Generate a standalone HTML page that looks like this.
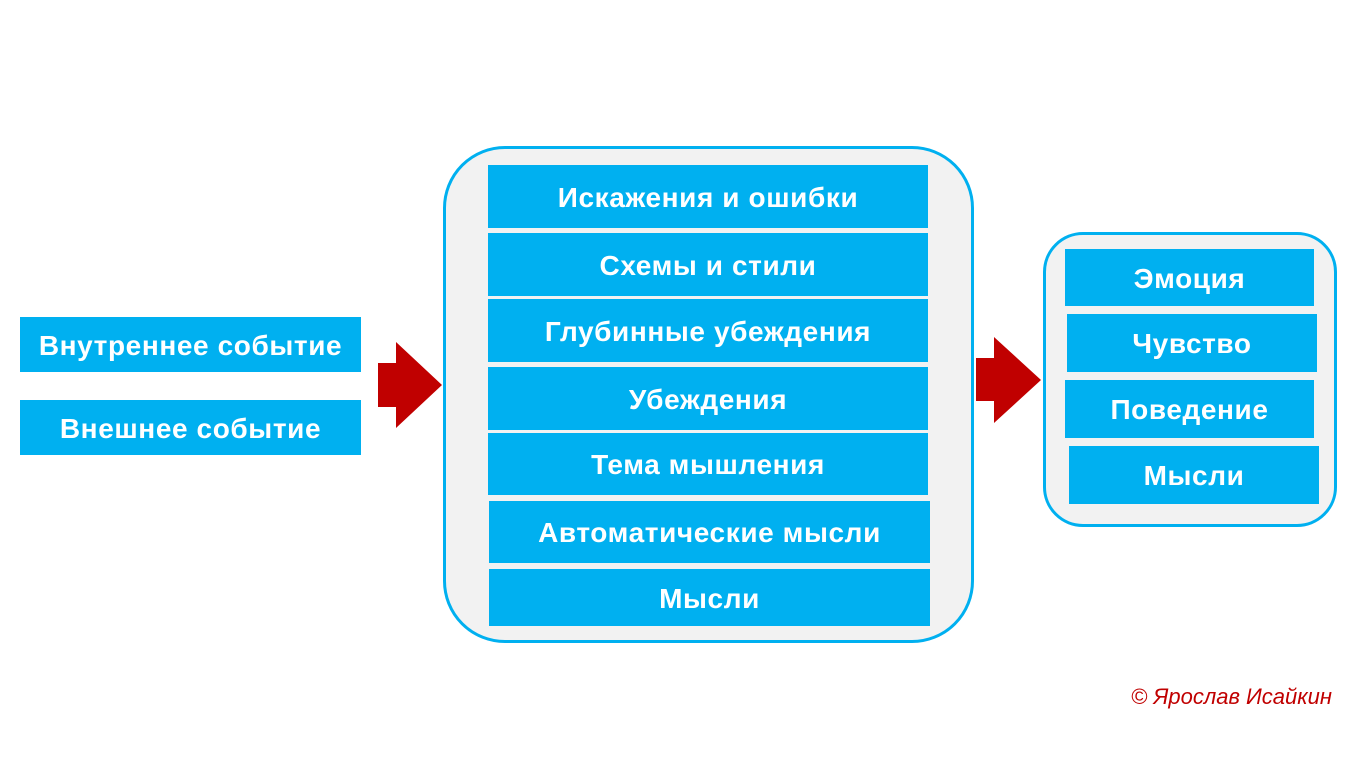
<!DOCTYPE html>
<html><head><meta charset="utf-8"><style>
body{margin:0;width:1366px;height:768px;background:#fff;position:relative;overflow:hidden;font-family:"Liberation Sans",sans-serif}
.b{position:absolute;background:#00b0f0;color:#fff;font-weight:bold;font-size:28px;letter-spacing:0.6px;display:flex;align-items:center;justify-content:center;white-space:nowrap;padding-top:2px;box-sizing:border-box}
.c{position:absolute;background:#f2f2f2;border:3px solid #00b0f0;box-sizing:border-box}
</style></head><body>
<div class="b" style="left:20px;top:317px;width:341px;height:55px">Внутреннее событие</div>
<div class="b" style="left:20px;top:400px;width:341px;height:55px">Внешнее событие</div>
<svg style="position:absolute;left:0;top:0" width="1366" height="768">
<polygon points="378,363 396,363 396,342 442,385 396,428 396,407 378,407" fill="#c00000"/>
<polygon points="976,358 994,358 994,337 1041,380 994,423 994,401 976,401" fill="#c00000"/>
</svg>
<div class="c" style="left:443px;top:146px;width:531px;height:497px;border-radius:62px"></div>
<div class="b" style="left:488px;top:165px;width:440px;height:63px">Искажения и ошибки</div>
<div class="b" style="left:488px;top:233px;width:440px;height:63px">Схемы и стили</div>
<div class="b" style="left:488px;top:299px;width:440px;height:63px">Глубинные убеждения</div>
<div class="b" style="left:488px;top:367px;width:440px;height:63px">Убеждения</div>
<div class="b" style="left:488px;top:433px;width:440px;height:62px">Тема мышления</div>
<div class="b" style="left:489px;top:501px;width:441px;height:62px">Автоматические мысли</div>
<div class="b" style="left:489px;top:569px;width:441px;height:57px">Мысли</div>
<div class="c" style="left:1043px;top:232px;width:294px;height:295px;border-radius:40px"></div>
<div class="b" style="left:1065px;top:249px;width:249px;height:57px">Эмоция</div>
<div class="b" style="left:1067px;top:314px;width:250px;height:58px">Чувство</div>
<div class="b" style="left:1065px;top:380px;width:249px;height:58px">Поведение</div>
<div class="b" style="left:1069px;top:446px;width:250px;height:58px">Мысли</div>
<div style="position:absolute;right:34px;top:684px;color:#c00000;font-style:italic;font-size:22px">© Ярослав Исайкин</div>
</body></html>
